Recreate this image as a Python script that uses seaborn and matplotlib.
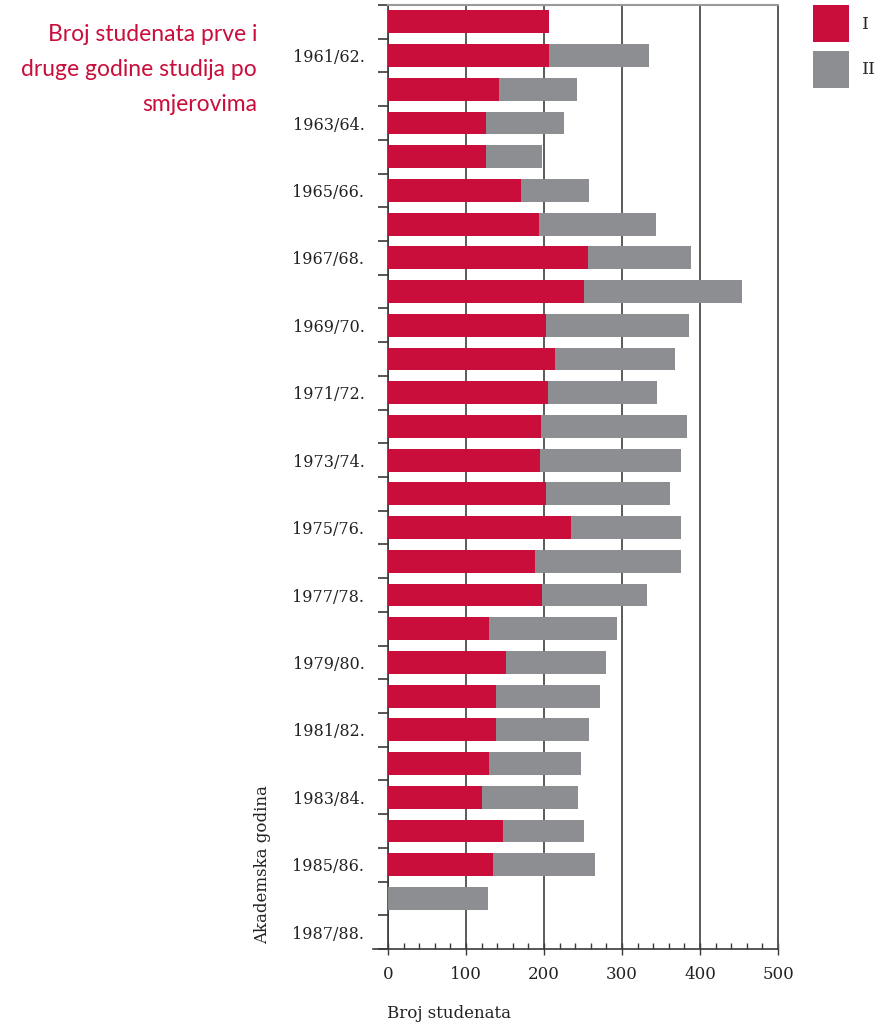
import matplotlib
matplotlib.use("Agg")
import matplotlib.pyplot as plt
from matplotlib.patches import Patch
import seaborn as sns
import pandas as pd

# academic years, top to bottom
godine = ['1960/61.', '1961/62.', '1962/63.', '1963/64.', '1964/65.', '1965/66.', '1966/67.',
          '1967/68.', '1968/69.', '1969/70.', '1970/71.', '1971/72.', '1972/73.', '1973/74.',
          '1974/75.', '1975/76.', '1976/77.', '1977/78.', '1978/79.', '1979/80.', '1980/81.',
          '1981/82.', '1982/83.', '1983/84.', '1984/85.', '1985/86.', '1986/87.', '1987/88.']
# students in first year (I) and second year (II)
prva = [207, 207, 142, 125, 125, 171, 193, 256, 251, 202, 214, 205, 196, 195,
        202, 235, 189, 197, 129, 151, 139, 139, 129, 120, 148, 134, 0, 0]
druga = [0, 128, 100, 100, 73, 87, 150, 133, 203, 184, 154, 140, 187, 181,
         159, 141, 187, 135, 164, 129, 133, 119, 119, 124, 103, 131, 128, 0]

crvena = '#C90E3B'
siva = '#8D8E91'
tamna = '#3a3a3a'

df = pd.DataFrame({'godina': godine, 'I': prva, 'II': druga})
df['ukupno'] = df['I'] + df['II']

sns.set_style('white')
plt.rcParams['font.family'] = ['DejaVu Serif']

fig = plt.figure(figsize=(8.84, 10.27), dpi=100)
ax = fig.add_axes([388 / 884, 1 - 949 / 1027, 390 / 884, 944 / 1027])

sns.barplot(data=df, y='godina', x='ukupno', color=siva, saturation=1, width=0.68,
            linewidth=0, orient='h', ax=ax, zorder=3)
sns.barplot(data=df, y='godina', x='I', color=crvena, saturation=1, width=0.68,
            linewidth=0, orient='h', ax=ax, zorder=4)

ax.set_xlim(0, 500)
ax.set_ylim(len(godine) - 0.5, -0.5)
ax.set_xlabel('')
ax.set_ylabel('')

# vertical grid
ax.set_xticks([0, 100, 200, 300, 400, 500])
ax.set_xticks(range(0, 501, 20), minor=True)
ax.xaxis.grid(True, color='#5a5a5a', linewidth=1.4, zorder=0)
ax.set_axisbelow(True)
ax.tick_params(axis='x', which='both', bottom=True)
ax.tick_params(axis='x', which='major', direction='inout', length=8, width=1,
               color=tamna, labelsize=12, labelcolor='#222222', pad=8)
ax.tick_params(axis='x', which='minor', direction='in', length=4, width=1, color=tamna)

# y ticks at the boundaries, labels on every other bar
ax.set_yticks([i - 0.5 for i in range(len(godine) + 1)])
ax.set_yticklabels([])
ax.set_yticks(range(1, len(godine), 2), minor=True)
ax.set_yticklabels(godine[1::2], minor=True)
ax.tick_params(axis='y', which='both', left=True)
ax.tick_params(axis='y', which='major', direction='out', length=7, width=1.2, color=tamna)
ax.tick_params(axis='y', which='minor', length=0, pad=17, labelsize=11.5, labelcolor='#222222')

for s in ['left', 'bottom']:
    ax.spines[s].set_color(tamna)
    ax.spines[s].set_linewidth(1.2)
ax.spines['top'].set_color('#9a9a9a')
ax.spines['top'].set_linewidth(1.5)
ax.spines['right'].set_color('#5a5a5a')
ax.spines['right'].set_linewidth(1.4)
ax.spines['bottom'].set_bounds(-19, 500)

fig.text(257 / 884, 1 - 24 / 1027, 'Broj studenata prve i\ndruge godine studija po\nsmjerovima',
         ha='right', va='top', multialignment='right', color=crvena,
         family=['Lato', 'DejaVu Sans'], fontsize=16.5, linespacing=1.82)

fig.text(263 / 884, 1 - 865 / 1027, 'Akademska godina', rotation=90,
         ha='center', va='center', fontsize=12, color='#222222')
fig.text(387 / 884, 1 - 1014 / 1027, 'Broj studenata', ha='left', va='center',
         fontsize=12, color='#222222')

handles = [Patch(facecolor=crvena, edgecolor='none', label='I'),
           Patch(facecolor=siva, edgecolor='none', label='II')]
fig.legend(handles=handles, loc='upper left', bbox_to_anchor=(813 / 884, 1 - 5 / 1027),
           frameon=False, fontsize=12.5, borderpad=0, borderaxespad=0,
           handlelength=2.1, handleheight=2.9, labelspacing=0.5, handletextpad=0.75)

fig.savefig('out.png', dpi=100)
